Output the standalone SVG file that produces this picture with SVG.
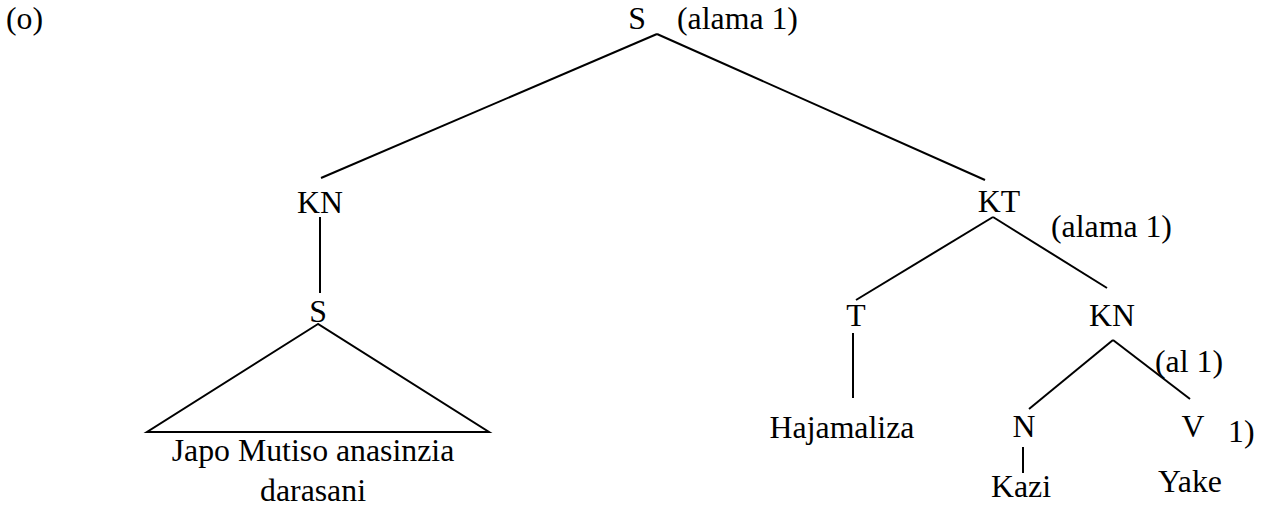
<svg xmlns="http://www.w3.org/2000/svg" width="1265" height="508" viewBox="0 0 1265 508">
<style>
text{font-family:"Liberation Serif","Times New Roman",serif;font-size:31.8px;fill:#000}
.m{text-anchor:middle}
line,polygon{stroke:#000;stroke-width:2;fill:none}
</style>
<rect width="1265" height="508" fill="#fff"/>
<g id="connectors">
<line x1="657" y1="34" x2="321" y2="178"/>
<line x1="657" y1="34" x2="985" y2="180"/>
<line x1="320" y1="217" x2="320" y2="293"/>
<polygon points="318,324 147,432 489,432"/>
<line x1="993" y1="217" x2="856" y2="300"/>
<line x1="993" y1="217" x2="1107" y2="288"/>
<line x1="853" y1="333" x2="853" y2="398"/>
<line x1="1113" y1="340" x2="1029" y2="409"/>
<line x1="1113" y1="340" x2="1190" y2="399"/>
<line x1="1023" y1="447" x2="1023" y2="473"/>
</g>
<g id="label-o"><text x="6" y="29">(o)</text></g>
<g id="node-S-root"><text class="m" x="637" y="29">S</text><text x="677" y="29">(alama 1)</text></g>
<g id="node-KN-left"><text class="m" x="320" y="213">KN</text></g>
<g id="node-S-left"><text class="m" x="318" y="322">S</text></g>
<g id="node-japo"><text class="m" x="313" y="461">Japo Mutiso anasinzia</text><text class="m" x="313" y="501">darasani</text></g>
<g id="node-KT"><text class="m" x="999" y="212">KT</text><text x="1051" y="237">(alama 1)</text></g>
<g id="node-T"><text class="m" x="856" y="326">T</text></g>
<g id="node-hajamaliza"><text class="m" x="842" y="438">Hajamaliza</text></g>
<g id="node-KN-right"><text class="m" x="1112" y="326">KN</text><text x="1155" y="372">(al 1)</text></g>
<g id="node-N"><text class="m" x="1024" y="437">N</text></g>
<g id="node-V"><text class="m" x="1193" y="437">V</text><text x="1228" y="442">1)</text></g>
<g id="node-kazi"><text class="m" x="1021" y="497">Kazi</text></g>
<g id="node-yake"><text class="m" x="1190" y="492">Yake</text></g>
</svg>
